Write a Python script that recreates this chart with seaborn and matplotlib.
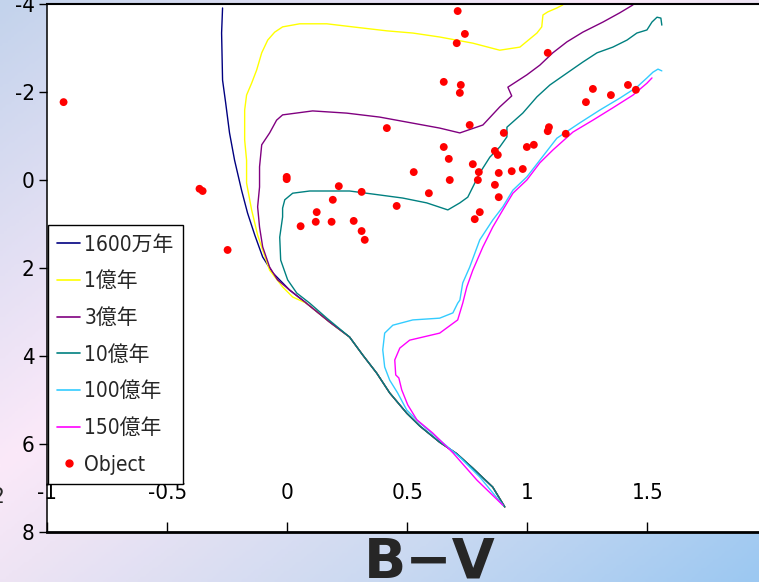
import numpy as np
import pandas as pd
import seaborn as sns
import matplotlib.pyplot as plt
from matplotlib import font_manager
from matplotlib.colors import LinearSegmentedColormap
from matplotlib.lines import Line2D

# shared lower main sequence (B-V, Mv)
ms_bv = [-0.06, 0.01, 0.08, 0.177, 0.26, 0.315, 0.373, 0.427, 0.498, 0.552, 0.635, 0.706, 0.773, 0.856, 0.906]
ms_mv = [2.11, 2.50, 2.80, 3.23, 3.57, 3.98, 4.39, 4.84, 5.30, 5.59, 5.96, 6.22, 6.55, 6.98, 7.43]

# isochrones
iso16m_bv = [-0.269, -0.273, -0.269, -0.256, -0.24, -0.219, -0.19, -0.165, -0.135, -0.102]
iso16m_mv = [-3.91, -3.34, -2.27, -1.75, -1.07, -0.45, 0.23, 0.75, 1.25, 1.75]

iso1g_bv = [1.148, 1.123, 1.085, 1.065, 1.06, 1.04, 0.969, 0.885, 0.773, 0.635, 0.523, 0.415, 0.273,
            0.165, 0.052, -0.019, -0.052, -0.081, -0.106, -0.127, -0.148, -0.169, -0.177, -0.177,
            -0.169, -0.169, -0.148, -0.123, -0.102, -0.073, -0.019, 0.023]
iso1g_mv = [-3.98, -3.91, -3.82, -3.75, -3.48, -3.34, -3.02, -2.95, -3.11, -3.25, -3.34, -3.39, -3.48,
            -3.55, -3.55, -3.48, -3.36, -3.18, -2.89, -2.50, -2.20, -1.93, -1.59, -0.91,
            -0.45, 0.07, 0.68, 1.25, 1.59, 2.05, 2.43, 2.66]

iso3g_bv = [1.44, 1.385, 1.315, 1.231, 1.165, 1.106, 1.052, 0.998, 0.919, 0.935, 0.885, 0.815, 0.719,
            0.635, 0.385, 0.248, 0.106, -0.019, -0.044, -0.073, -0.106, -0.115, -0.115, -0.123,
            -0.115, -0.102, -0.073, -0.04]
iso3g_mv = [-3.98, -3.80, -3.59, -3.36, -3.14, -2.89, -2.61, -2.39, -2.11, -1.91, -1.66, -1.25, -1.07,
            -1.18, -1.43, -1.52, -1.57, -1.48, -1.36, -1.07, -0.80, -0.30, 0.16, 0.61,
            1.07, 1.52, 1.98, 2.27]

iso10g_bv = [1.56, 1.556, 1.54, 1.519, 1.498, 1.456, 1.415, 1.356, 1.29, 1.231, 1.165, 1.094, 1.04,
             0.981, 0.915, 0.915, 0.885, 0.844, 0.802, 0.773, 0.752, 0.719, 0.669, 0.581, 0.481,
             0.385, 0.26, 0.094, 0.023, -0.01, -0.019, -0.019, -0.031, -0.027, 0.002, 0.04, 0.094, 0.165]
iso10g_mv = [-3.52, -3.68, -3.70, -3.59, -3.41, -3.34, -3.18, -3.02, -2.89, -2.68, -2.43, -2.16, -1.89,
             -1.52, -1.20, -0.98, -0.75, -0.52, -0.16, 0.16, 0.39, 0.52, 0.68, 0.52, 0.41,
             0.34, 0.25, 0.25, 0.30, 0.45, 0.64, 0.84, 1.30, 1.82, 2.27, 2.57, 2.80, 3.14]

iso100g_bv = [1.56, 1.544, 1.523, 1.498, 1.456, 1.385, 1.302, 1.219, 1.123, 1.052, 0.998, 0.94, 0.898,
              0.856, 0.802, 0.76, 0.731, 0.719, 0.71, 0.69, 0.635, 0.523, 0.44, 0.406, 0.398, 0.406,
              0.427, 0.46, 0.498, 0.552, 0.635, 0.719, 0.802, 0.898]
iso100g_mv = [-2.48, -2.52, -2.45, -2.32, -2.11, -1.86, -1.59, -1.30, -0.95, -0.45, -0.07, 0.23, 0.61,
              0.91, 1.36, 1.98, 2.34, 2.73, 2.80, 3.02, 3.14, 3.18, 3.30, 3.48, 3.86, 4.25,
              4.55, 4.84, 5.23, 5.52, 5.91, 6.30, 6.75, 7.39]

iso150g_bv = [1.519, 1.498, 1.44, 1.356, 1.273, 1.19, 1.106, 1.052, 0.998, 0.94, 0.898, 0.856, 0.815,
              0.773, 0.748, 0.731, 0.71, 0.635, 0.51, 0.469, 0.448, 0.452, 0.465, 0.477, 0.502,
              0.54, 0.606, 0.69, 0.79, 0.898]
iso150g_mv = [-2.32, -2.20, -1.93, -1.64, -1.36, -1.09, -0.68, -0.39, 0.0, 0.30, 0.68, 1.07, 1.52,
              2.05, 2.43, 2.80, 3.18, 3.48, 3.64, 3.82, 4.09, 4.43, 4.50, 4.77, 5.11,
              5.45, 5.75, 6.20, 6.82, 7.39]

# observed objects
obj_bv = [-0.931, -0.365, -0.352, -0.248, -0.002, -0.002, 0.056, 0.123, 0.119, 0.185, 0.19, 0.215,
          0.31, 0.277, 0.31, 0.323, 0.415, 0.456, 0.527, 0.59, 0.652, 0.652, 0.673, 0.677, 0.71,
          0.706, 0.74, 0.723, 0.719, 0.76, 0.773, 0.798, 0.794, 0.802, 0.781, 0.865, 0.877, 0.881,
          0.865, 0.881, 0.902, 0.935, 0.981, 0.998, 1.027, 1.085, 1.09, 1.085, 1.16, 1.244, 1.273,
          1.348, 1.419, 1.452]
obj_mv = [-1.77, 0.20, 0.25, 1.59, -0.07, -0.02, 1.05, 0.73, 0.95, 0.95, 0.45, 0.14,
          0.27, 0.93, 1.16, 1.36, -1.18, 0.59, -0.18, 0.30, -2.23, -0.75, -0.48, 0.0, -3.84,
          -3.11, -3.32, -2.16, -1.98, -1.25, -0.36, -0.18, 0.0, 0.73, 0.89, -0.66, -0.57, -0.16,
          0.11, 0.39, -1.07, -0.20, -0.25, -0.75, -0.80, -2.89, -1.20, -1.11, -1.05, -1.77, -2.07,
          -1.93, -2.16, -2.05]

ages = ['1600万年', '1億年', '3億年', '10億年', '100億年', '150億年']
colors = ['#000080', '#ffff00', '#800080', '#008080', '#33ccff', '#ff00ff']

curves = [
    (iso16m_bv + ms_bv, iso16m_mv + ms_mv),
    (iso1g_bv + ms_bv[2:], iso1g_mv + ms_mv[2:]),
    (iso3g_bv + ms_bv[1:], iso3g_mv + ms_mv[1:]),
    (iso10g_bv + ms_bv[4:], iso10g_mv + ms_mv[4:]),
    (iso100g_bv, iso100g_mv),
    (iso150g_bv, iso150g_mv),
]
frames = []
for age, (bv, mv) in zip(ages, curves):
    frames.append(pd.DataFrame({'bv': bv, 'mv': mv, 'age': age}))
df = pd.concat(frames, ignore_index=True)

sns.set_style('white')
plt.rcParams['axes.unicode_minus'] = False

# the original uses a narrow gothic face; take a condensed one if there is one
fonts = font_manager.fontManager.ttflist
if any(f.name == 'Liberation Sans Narrow' for f in fonts):
    num_font = ['Liberation Sans Narrow', 'Noto Sans CJK JP']
elif any(f.name == 'DejaVu Sans' and 'condensed' in str(f.stretch) for f in fonts):
    num_font = ['DejaVu Sans', 'Noto Sans CJK JP']
    plt.rcParams['font.stretch'] = 'condensed'
else:
    num_font = ['Noto Sans', 'Noto Sans CJK JP']
plt.rcParams['font.family'] = num_font

fig = plt.figure(figsize=(7.59, 5.82), dpi=100)

# slide-like gradient background
bg = fig.add_axes([0, 0, 1, 1], zorder=-1)
bg_cmap = LinearSegmentedColormap.from_list(
    'bg', [(0.0, '#c3d3ec'), (0.4, '#fbe9f9'), (0.5, '#eee4f4'), (0.75, '#cad9f1'), (1.0, '#9cc8f2')])
yy, xx = np.mgrid[0:1:200j, 0:1:260j]
bg.imshow(xx + yy, cmap=bg_cmap, vmin=0, vmax=2, aspect='auto', extent=[0, 1, 0, 1])
bg.set_axis_off()

ax = fig.add_axes([47 / 759, 1 - 532 / 582, 720.5 / 759, 528 / 582])
ax.set_facecolor('white')

sns.lineplot(data=df, x='bv', y='mv', hue='age', hue_order=ages, palette=colors,
             sort=False, estimator=None, lw=1.0, legend=False, ax=ax)
sns.scatterplot(x=obj_bv, y=obj_mv, color='#ff0000', s=32, edgecolor='none', ax=ax, zorder=3)

ax.set_xlim(-1, 2)
ax.set_ylim(8, -4)
ax.set_xticks([-1, -0.5, 0, 0.5, 1, 1.5])
ax.set_xticklabels(['-1', '-0.5', '0', '0.5', '1', '1.5'])
ax.set_yticks([-4, -2, 0, 2, 4, 6, 8])
ax.set_xlabel('')
ax.set_ylabel('')
ax.tick_params(axis='y', left=True, direction='out', length=6, width=1, labelsize=16, pad=3, colors='black')
ax.tick_params(axis='x', bottom=True, direction='in', length=7, width=1, labelsize=16, pad=-35, colors='black')

for side, w in [('top', 1.5), ('bottom', 2.0), ('left', 1.1), ('right', 1.5)]:
    ax.spines[side].set_visible(True)
    ax.spines[side].set_color('black')
    ax.spines[side].set_linewidth(w)

handles = [Line2D([], [], color=c, lw=1.2) for c in colors]
handles.append(Line2D([], [], ls='none', marker='o', color='#ff0000', markersize=5))
leg = ax.legend(handles, ages + ['Object'], loc='lower left', bbox_to_anchor=(0.0014, 0.0909),
                prop={'family': num_font, 'size': 15}, frameon=True, fancybox=False,
                edgecolor='black', framealpha=1, handlelength=1.1, handletextpad=0.2,
                labelspacing=0.80, borderpad=0.45, borderaxespad=0)
leg.get_frame().set_linewidth(1.0)

fig.text(430 / 759, 1 - 578 / 582, 'B\u2212V', fontsize=40, fontweight='bold',
         family='DejaVu Sans', fontstretch='normal', ha='center', va='baseline')
fig.text(-2 / 759, 1 - 497 / 582, '2', fontsize=16, ha='center', va='center')

fig.savefig('out.png', dpi=100)
